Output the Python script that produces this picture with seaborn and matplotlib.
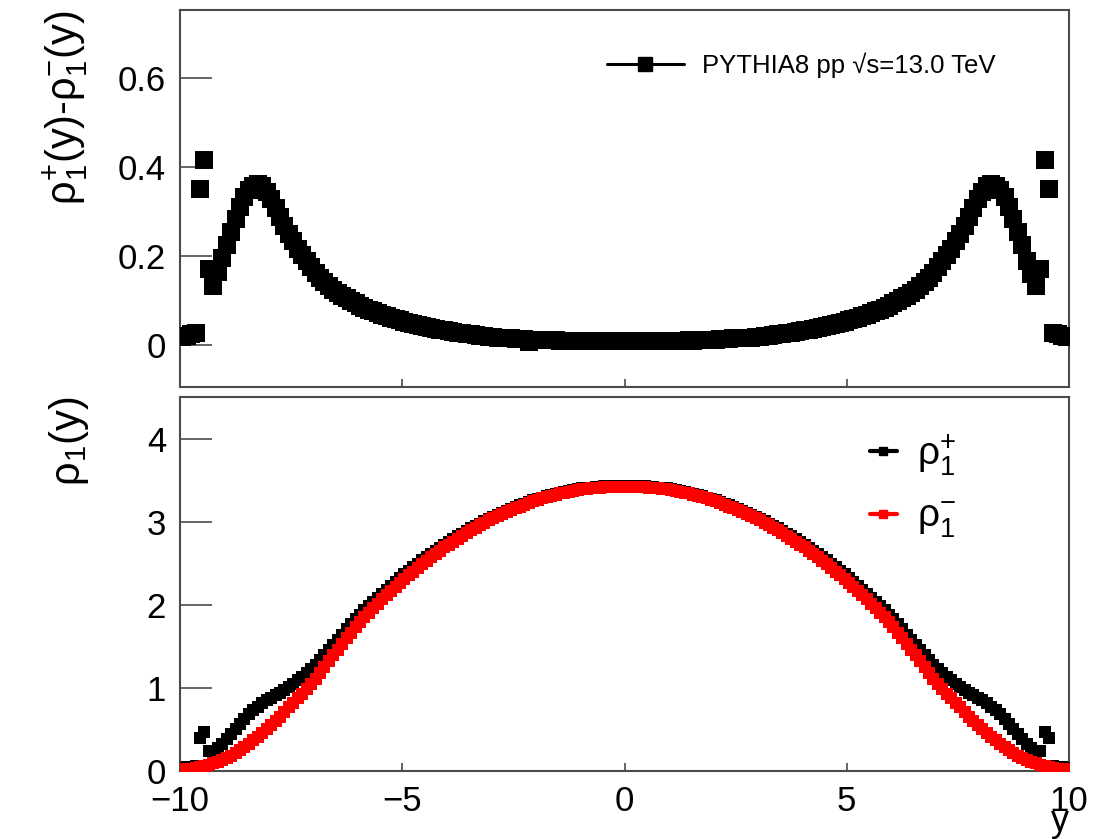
import numpy as np
import pandas as pd
import matplotlib
matplotlib.use("Agg")
import matplotlib.pyplot as plt
from matplotlib.lines import Line2D
import seaborn as sns

# ---------------- data ----------------
n_bins = 200
y_lo, y_hi = -10.0, 10.0

# rho1+(y) - rho1-(y), left half (y = -9.95 ... -0.05)
diff_left = [
    0.018, 0.020, 0.024, 0.028, 0.350, 0.415, 0.170, 0.132, 0.165, 0.195,
    0.225, 0.255, 0.283, 0.310, 0.332, 0.348, 0.358, 0.362, 0.358, 0.345,
    0.328, 0.308, 0.288, 0.268, 0.250, 0.233, 0.217, 0.202, 0.188, 0.175,
    0.163, 0.152, 0.142, 0.133, 0.125, 0.118, 0.111, 0.105, 0.099, 0.094,
    0.089, 0.084, 0.080, 0.076, 0.072, 0.068, 0.065, 0.062, 0.059, 0.056,
    0.053, 0.050, 0.048, 0.045, 0.043, 0.041, 0.039, 0.037, 0.035, 0.033,
    0.031, 0.030, 0.028, 0.027, 0.025, 0.024, 0.023, 0.021, 0.020, 0.019,
    0.018, 0.017, 0.016, 0.015, 0.015, 0.014, 0.013, 0.013, 0.008, 0.012,
    0.012, 0.012, 0.011, 0.011, 0.011, 0.010, 0.010, 0.010, 0.010, 0.010,
    0.010, 0.010, 0.009, 0.009, 0.009, 0.009, 0.009, 0.009, 0.009, 0.009,
]
# right half (y = 0.05 ... 9.95)
diff_right = [
    0.009, 0.009, 0.010, 0.009, 0.009, 0.010, 0.009, 0.010, 0.010, 0.010,
    0.010, 0.010, 0.010, 0.010, 0.011, 0.010, 0.011, 0.011, 0.012, 0.012,
    0.012, 0.013, 0.013, 0.014, 0.015, 0.015, 0.016, 0.017, 0.017, 0.018,
    0.019, 0.020, 0.021, 0.023, 0.024, 0.025, 0.027, 0.028, 0.030, 0.031,
    0.033, 0.035, 0.037, 0.039, 0.041, 0.043, 0.045, 0.048, 0.050, 0.053,
    0.056, 0.059, 0.062, 0.065, 0.068, 0.072, 0.076, 0.080, 0.084, 0.089,
    0.094, 0.099, 0.105, 0.111, 0.118, 0.125, 0.133, 0.142, 0.152, 0.163,
    0.175, 0.188, 0.202, 0.217, 0.233, 0.250, 0.268, 0.288, 0.308, 0.328,
    0.345, 0.358, 0.362, 0.358, 0.348, 0.332, 0.310, 0.283, 0.255, 0.225,
    0.190, 0.160, 0.132, 0.172, 0.415, 0.350, 0.028, 0.024, 0.021, 0.018,
]

# rho1-(y), left half
rho_minus_left = [
    0.020, 0.025, 0.030, 0.037, 0.046, 0.058, 0.074, 0.092, 0.110, 0.130,
    0.155, 0.185, 0.215, 0.250, 0.290, 0.330, 0.370, 0.415, 0.460, 0.505,
    0.555, 0.605, 0.655, 0.710, 0.765, 0.820, 0.875, 0.930, 0.990, 1.050,
    1.110, 1.180, 1.250, 1.320, 1.390, 1.460, 1.530, 1.600, 1.665, 1.730,
    1.790, 1.850, 1.905, 1.960, 2.015, 2.065, 2.115, 2.165, 2.215, 2.265,
    2.310, 2.355, 2.400, 2.445, 2.490, 2.530, 2.570, 2.610, 2.650, 2.690,
    2.725, 2.760, 2.795, 2.830, 2.865, 2.895, 2.925, 2.955, 2.985, 3.015,
    3.040, 3.065, 3.090, 3.115, 3.140, 3.160, 3.180, 3.200, 3.225, 3.245,
    3.265, 3.280, 3.295, 3.310, 3.325, 3.340, 3.350, 3.360, 3.370, 3.380,
    3.390, 3.395, 3.400, 3.405, 3.410, 3.415, 3.418, 3.420, 3.420, 3.420,
]
rho_minus_right = [
    3.420, 3.420, 3.420, 3.418, 3.415, 3.410, 3.405, 3.400, 3.395, 3.390,
    3.380, 3.370, 3.360, 3.350, 3.340, 3.325, 3.310, 3.295, 3.280, 3.265,
    3.245, 3.225, 3.200, 3.180, 3.160, 3.140, 3.115, 3.090, 3.065, 3.040,
    3.015, 2.985, 2.955, 2.925, 2.895, 2.865, 2.830, 2.795, 2.760, 2.725,
    2.690, 2.650, 2.610, 2.570, 2.530, 2.490, 2.445, 2.400, 2.355, 2.310,
    2.265, 2.215, 2.165, 2.115, 2.065, 2.015, 1.960, 1.905, 1.850, 1.790,
    1.730, 1.665, 1.600, 1.530, 1.460, 1.390, 1.320, 1.250, 1.180, 1.110,
    1.050, 0.990, 0.930, 0.875, 0.820, 0.765, 0.710, 0.655, 0.605, 0.555,
    0.505, 0.460, 0.415, 0.370, 0.330, 0.290, 0.250, 0.215, 0.185, 0.155,
    0.130, 0.110, 0.092, 0.074, 0.058, 0.046, 0.037, 0.030, 0.025, 0.020,
]

# rho1+(y), left half
rho_plus_left = [
    0.038, 0.045, 0.054, 0.065, 0.400, 0.470, 0.245, 0.225, 0.275, 0.325,
    0.380, 0.440, 0.500, 0.560, 0.620, 0.680, 0.730, 0.775, 0.815, 0.850,
    0.880, 0.910, 0.940, 0.975, 1.015, 1.050, 1.090, 1.130, 1.175, 1.225,
    1.270, 1.330, 1.390, 1.450, 1.515, 1.580, 1.640, 1.705, 1.765, 1.825,
    1.880, 1.935, 1.985, 2.035, 2.085, 2.135, 2.180, 2.225, 2.275, 2.320,
    2.365, 2.405, 2.450, 2.490, 2.535, 2.570, 2.610, 2.650, 2.685, 2.725,
    2.755, 2.790, 2.825, 2.855, 2.890, 2.920, 2.950, 2.975, 3.005, 3.035,
    3.060, 3.085, 3.105, 3.130, 3.155, 3.175, 3.195, 3.215, 3.235, 3.255,
    3.275, 3.290, 3.305, 3.320, 3.335, 3.350, 3.360, 3.370, 3.380, 3.390,
    3.400, 3.405, 3.410, 3.415, 3.420, 3.425, 3.428, 3.430, 3.430, 3.430,
]
rho_plus_right = [
    3.430, 3.430, 3.430, 3.428, 3.425, 3.420, 3.415, 3.410, 3.405, 3.400,
    3.390, 3.380, 3.370, 3.360, 3.350, 3.335, 3.320, 3.305, 3.290, 3.275,
    3.255, 3.235, 3.215, 3.195, 3.175, 3.155, 3.130, 3.105, 3.085, 3.060,
    3.035, 3.005, 2.975, 2.950, 2.920, 2.890, 2.855, 2.825, 2.790, 2.755,
    2.725, 2.685, 2.650, 2.610, 2.570, 2.535, 2.490, 2.450, 2.405, 2.365,
    2.320, 2.275, 2.225, 2.180, 2.135, 2.085, 2.035, 1.985, 1.935, 1.880,
    1.825, 1.765, 1.705, 1.640, 1.580, 1.515, 1.450, 1.390, 1.330, 1.270,
    1.225, 1.175, 1.130, 1.090, 1.050, 1.015, 0.975, 0.940, 0.910, 0.880,
    0.850, 0.815, 0.775, 0.730, 0.680, 0.620, 0.560, 0.500, 0.440, 0.380,
    0.325, 0.275, 0.225, 0.245, 0.470, 0.400, 0.065, 0.054, 0.045, 0.038,
]

top_yticks = [0, 0.2, 0.4, 0.6]
top_yticklabels = ["0", "0.2", "0.4", "0.6"]
bot_yticks = [0, 1, 2, 3, 4]
xticks = [-10, -5, 0, 5, 10]

legend_top = "PYTHIA8 pp \u221as=13.0 TeV"
label_plus = r"ρ$^{+}_{1}$"
label_minus = r"ρ$^{-}_{1}$"
ylabel_top = r"ρ$^{+}_{1}$(y)-ρ$^{-}_{1}$(y)"
ylabel_bot = r"ρ$_{1}$(y)"

# ---------------- build tables ----------------
edges = np.linspace(y_lo, y_hi, n_bins + 1)
centers = 0.5 * (edges[:-1] + edges[1:])
df = pd.DataFrame({
    "y": centers,
    "diff": diff_left + diff_right,
    "rho_plus": rho_plus_left + rho_plus_right,
    "rho_minus": rho_minus_left + rho_minus_right,
})

# ---------------- style ----------------
sns.set_theme(style="ticks")
plt.rcParams["font.family"] = ["Liberation Sans", "DejaVu Sans"]
plt.rcParams["mathtext.fontset"] = "custom"
plt.rcParams["mathtext.rm"] = "Liberation Sans"
plt.rcParams["mathtext.it"] = "Liberation Sans:italic"
plt.rcParams["mathtext.bf"] = "Liberation Sans:bold"
plt.rcParams["mathtext.sf"] = "Liberation Sans"
plt.rcParams["text.color"] = "black"
plt.rcParams["axes.labelcolor"] = "black"
plt.rcParams["xtick.labelcolor"] = "black"
plt.rcParams["ytick.labelcolor"] = "black"

W, H = 1096, 839
fig = plt.figure(figsize=(W / 100, H / 100), dpi=100)
fig.patch.set_facecolor("white")

def frac_box(x0, y0, x1, y1):
    return [x0 / W, 1 - y1 / H, (x1 - x0) / W, (y1 - y0) / H]

ax1 = fig.add_axes(frac_box(180, 10, 1069, 387))
ax2 = fig.add_axes(frac_box(180, 397, 1069, 771))

frame_col = "#4a4a4a"
tick_fs = 25

for ax in (ax1, ax2):
    ax.set_facecolor("white")
    for sp in ax.spines.values():
        sp.set_color(frame_col)
        sp.set_linewidth(1.5)
    ax.set_xlim(y_lo, y_hi)
    ax.tick_params(axis="y", direction="in", length=23, width=1.2, color=frame_col,
                   labelsize=tick_fs, labelcolor="black", pad=10, left=True, right=False)
    ax.tick_params(axis="x", direction="in", length=6, width=1.2, color=frame_col,
                   labelsize=tick_fs, labelcolor="black", pad=10, bottom=True, top=False)
    ax.minorticks_off()

# ---------------- top panel ----------------
sns.scatterplot(data=df, x="y", y="diff", ax=ax1, marker="s", s=150,
                color="black", linewidth=0, legend=False, zorder=3)
ax1.set_ylim(-0.094, 0.753)
ax1.set_yticks(top_yticks)
ax1.set_yticklabels(top_yticklabels)
ax1.set_xticks([-5, 0, 5])
ax1.set_xticklabels([])
ax1.set_xlabel("")
ax1.set_ylabel(ylabel_top, fontsize=30, loc="top", color="black")
ax1.yaxis.set_label_coords(-0.100, 1.0)

h_top = Line2D([], [], color="black", lw=2.2, marker="s", markersize=10)
leg1 = ax1.legend([h_top], [legend_top], loc="center left",
                  bbox_to_anchor=(0.480, 0.854), frameon=False, fontsize=18.5,
                  handlelength=3.0, handletextpad=0.7, borderpad=0,
                  borderaxespad=0)

# ---------------- bottom panel ----------------
sns.scatterplot(data=df, x="y", y="rho_plus", ax=ax2, marker="s", s=70,
                color="black", linewidth=0, legend=False, zorder=3)
sns.scatterplot(data=df, x="y", y="rho_minus", ax=ax2, marker="s", s=70,
                color="#ff0000", linewidth=0, legend=False, zorder=4)
ax2.set_ylim(0, 4.5)
ax2.set_yticks(bot_yticks)
ax2.set_xticks(xticks)
ax2.set_xlabel("")
ax2.set_ylabel(ylabel_bot, fontsize=30, loc="top", color="black")
ax2.yaxis.set_label_coords(-0.100, 1.0)
ax2.text(0.99, -0.160, "y", transform=ax2.transAxes, fontsize=26,
         ha="center", va="baseline")

h_p = Line2D([], [], color="black", lw=3, marker="s", markersize=5.5)
h_m = Line2D([], [], color="#ff0000", lw=3, marker="s", markersize=5.5)
leg2 = ax2.legend([h_p, h_m], [label_plus, label_minus], loc="center left",
                  bbox_to_anchor=(0.776, 0.762), frameon=False, fontsize=28,
                  handlelength=0.7, handletextpad=0.5, borderpad=0,
                  borderaxespad=0, labelspacing=0.55)

fig.savefig("out.png", dpi=100, facecolor="white")
